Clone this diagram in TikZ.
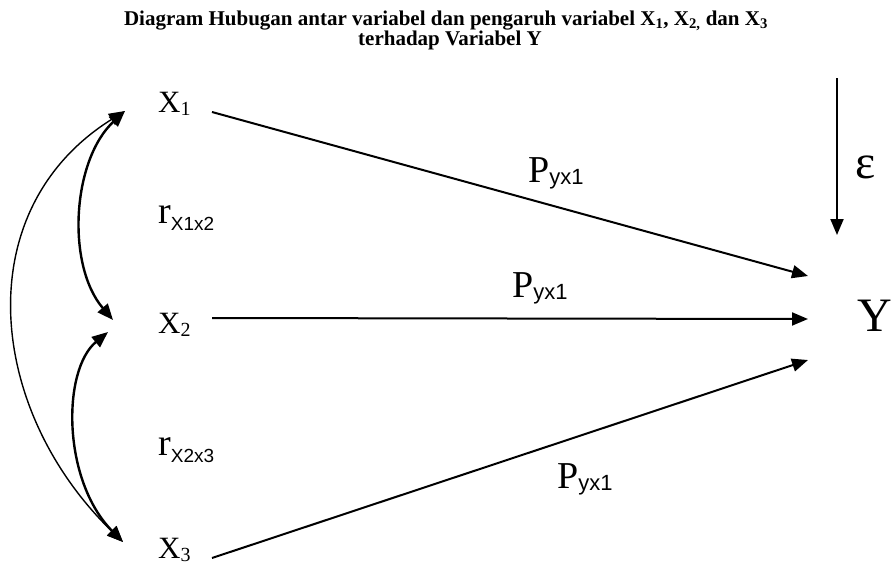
\documentclass[tikz,border=0pt]{standalone}
\usepackage{fontspec}
\setmainfont{Liberation Serif}
\newfontfamily\arialf{Liberation Sans}
\usetikzlibrary{arrows.meta}
\newcommand\fsz[1]{\fontsize{#1}{#1}\selectfont}
\newcommand\xlab[1]{{\fsz{31}X\raisebox{-3pt}{\fsz{20}#1}}}
\newcommand\plab{{\fsz{38}P\raisebox{-2pt}{\arialf\fsz{22}yx1}}}
\newcommand\rlab[1]{{\fsz{38}r\raisebox{-7pt}{\arialf\fsz{19}#1}}}
\begin{document}
\begin{tikzpicture}[x=1pt,y=-1pt,
  lbl/.style={inner sep=0pt,anchor=base west},
  ttl/.style={inner sep=0pt,anchor=base,font=\bfseries\fsz{21}},
  hd/.style={-{Triangle[length=16pt,width=13pt]}},
  path/.style={line width=2pt,hd},
  corr/.style={line width=2.4pt,{Triangle[length=16pt,width=13pt]}-{Triangle[length=16pt,width=13pt]}},
  corrout/.style={line width=1.4pt,{Triangle[length=16pt,width=13pt]}-{Triangle[length=16pt,width=13pt]}}]
\useasboundingbox[fill=white] (0,0) rectangle (891,570);

% title
\node[ttl] (t1) at (446,25) {Diagram Hubugan antar variabel dan pengaruh variabel X\textsubscript{1}, X\textsubscript{2,} dan X\textsubscript{3}};
\node[ttl] (t2) at (450,45) {terhadap Variabel Y};

% variables
\node[lbl] (X1) at (158,112) {\xlab{1}};
\node[lbl] (X2) at (158,333) {\xlab{2}};
\node[lbl] (X3) at (158,558) {\xlab{3}};
\node[lbl] (Y) at (857,331) {\fsz{48}Y};
\node[inner sep=0pt] (eps) at (866,167) {\fsz{48}ε};

% correlation labels
\node[lbl] (r12) at (158,223) {\rlab{X1x2}};
\node[lbl] (r23) at (158,455) {\rlab{X2x3}};

% path labels
\node[lbl] (p1) at (528,182) {\plab};
\node[lbl] (p2) at (512,297) {\plab};
\node[lbl] (p3) at (557,488) {\plab};

% connector end points
\coordinate (x1o) at (212,112);
\coordinate (x2o) at (212,318);
\coordinate (x3o) at (212,558);
\coordinate (y1) at (808,276);
\coordinate (y2) at (808,319);
\coordinate (y3) at (808,360);
\coordinate (etop) at (837,78);
\coordinate (ebot) at (837,235);
\coordinate (c1) at (125,111);
\coordinate (c2a) at (113,320);
\coordinate (c2b) at (108,332);
\coordinate (c3) at (123,542);

\draw[path] (x1o) -- (y1);
\draw[path] (x2o) -- (y2);
\draw[path] (x3o) -- (y3);
\draw[path] (etop) -- (ebot);

\draw[corr] (c1) .. controls (72,160) and (66,265) .. (c2a);
\draw[corr] (c2b) .. controls (62,370) and (62,480) .. (c3);
\draw[corrout] (c1) .. controls (-33,210) and (-13,410) .. (c3);
\end{tikzpicture}
\end{document}
